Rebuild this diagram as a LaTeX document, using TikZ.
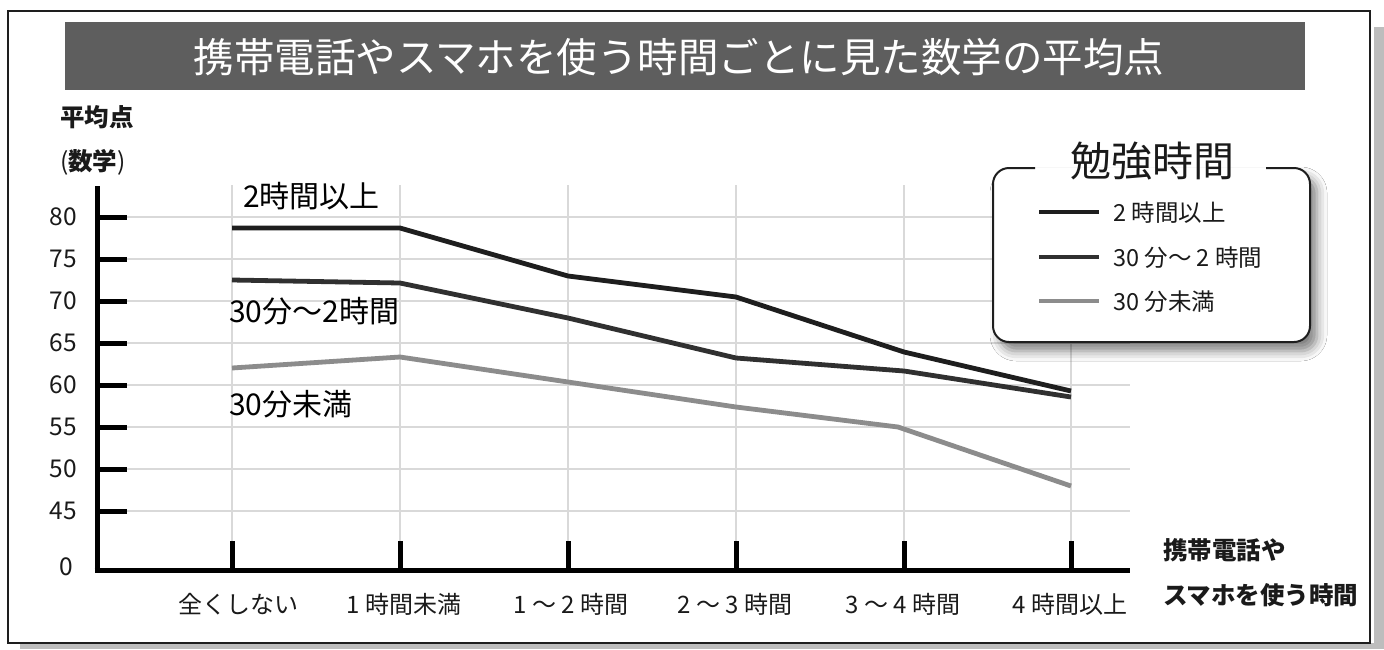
\documentclass[tikz,border=0pt]{standalone}
\usepackage{fontspec}
\setmainfont{Noto Sans CJK JP}
\usetikzlibrary{shadows.blur}
\definecolor{framec}{HTML}{1E1E1E}
\definecolor{shadowc}{HTML}{BDBDBD}
\definecolor{titlebg}{HTML}{5E5E5E}
\definecolor{gridc}{HTML}{D9D9D9}
\definecolor{serA}{HTML}{1E1E1E}
\definecolor{serB}{HTML}{303030}
\definecolor{serC}{HTML}{8C8C8C}
\definecolor{txtc}{HTML}{1A1A1A}
\tikzset{
  gridline/.style={draw=gridc, line width=2pt},
  axisline/.style={draw=black, line width=5pt},
  series/.style={line width=4.8pt, line join=round, line cap=butt},
  vallabel/.style={anchor=east, inner sep=0pt, text=txtc, font=\fontsize{24.5}{28}\selectfont},
  catlabel/.style={anchor=center, inner sep=0pt, text=txtc, font=\fontsize{24}{28}\selectfont},
  serlabel/.style={anchor=west, inner sep=0pt, text=black, font=\fontsize{30}{34}\selectfont},
  boldlabel/.style={anchor=west, inner sep=0pt, text=txtc, font=\fontsize{24.5}{28}\selectfont\bfseries},
  legtext/.style={anchor=west, inner sep=0pt, text=txtc, font=\fontsize{23.5}{27}\selectfont},
}
\begin{document}
\begin{tikzpicture}[x=1pt,y=-1pt]
\useasboundingbox (0,0) rectangle (1384,649);
% outer frame with shadow
\fill[shadowc] (20,27) rectangle (1384,649);
\fill[white] (1370,11) rectangle (1374,643);
\draw[framec, line width=2pt, fill=white] (8,11) rectangle (1370,643);
% title bar
\fill[titlebg] (65,22) rectangle (1305,90);
\node[inner sep=0pt, text=white, font=\fontsize{40.5}{46}\selectfont] (title) at (679,57) {携帯電話やスマホを使う時間ごとに見た数学の平均点};
% axis titles
\node[boldlabel] (ytitleA) at (60,117) {平均点};
\node[boldlabel] (ytitleB) at (60,162) {{\mdseries(}数学{\mdseries)}};
\node[boldlabel] (xtitleA) at (1163,550) {携帯電話や};
\node[boldlabel] (xtitleB) at (1163,595) {スマホを使う時間};
% grid
\foreach \y in {217,259,301,343,385,427,469,511}
  \draw[gridline] (127,\y) -- (1130,\y);
\foreach \x in {232,400,568,736,904,1071}
  \draw[gridline] (\x,185) -- (\x,541);
% axes
\coordinate (ytop) at (97,186);
\coordinate (origin) at (97,570);
\coordinate (xend) at (1130,570);
\draw[axisline] (ytop) -- (97,572.5);
\draw[axisline] (94.5,570) -- (xend);
\foreach \y/\v in {217/80,259/75,301/70,343/65,385/60,427/55,469/50,511/45}{
  \draw[axisline] (97,\y) -- (127,\y);
  \node[vallabel] (yl\v) at (77,\y) {\v};
}
\node[vallabel] (yl0) at (73,567) {0};
\foreach \x in {232,400,568,736,904,1071}
  \draw[axisline] (\x,570) -- (\x,541);
% category labels
\node[catlabel] (c1) at (238,604) {全くしない};
\node[catlabel] (c2) at (404,604) {1 時間未満};
\node[catlabel] (c3) at (571,604) {1 ～ 2 時間};
\node[catlabel] (c4) at (735,604) {2 ～ 3 時間};
\node[catlabel] (c5) at (903,604) {3 ～ 4 時間};
\node[catlabel] (c6) at (1070,604) {4 時間以上};
% series data
\coordinate (a1) at (232,228); \coordinate (a2) at (400,228); \coordinate (a3) at (568,276);
\coordinate (a4) at (736,297); \coordinate (a5) at (904,352); \coordinate (a6) at (1071,391);
\coordinate (b1) at (232,280); \coordinate (b2) at (400,283); \coordinate (b3) at (568,318);
\coordinate (b4) at (736,358); \coordinate (b5) at (904,371); \coordinate (b6) at (1071,397);
\coordinate (s1) at (232,368); \coordinate (s2) at (400,357); \coordinate (s3) at (568,382);
\coordinate (s4) at (736,407); \coordinate (s5) at (898,427); \coordinate (s6) at (1071,486);
\draw[series, serC] (s1) -- (s2) -- (s3) -- (s4) -- (s5) -- (s6);
\draw[series, serB] (b1) -- (b2) -- (b3) -- (b4) -- (b5) -- (b6);
\draw[series, serA] (a1) -- (a2) -- (a3) -- (a4) -- (a5) -- (a6);
% series labels
\node[serlabel] (la) at (243,196) {2時間以上};
\node[serlabel] (lb) at (229,311) {30分～2時間};
\node[serlabel] (lc) at (229,404) {30分未満};
% legend
\fill[white, rounded corners=16pt, blur shadow={shadow xshift=7pt, shadow yshift=-9pt, shadow blur radius=10pt, shadow opacity=50}] (993,168) rectangle (1310,342);
\coordinate (lgA) at (1035,168);
\coordinate (lgB) at (1266,168);
\draw[framec, line width=2pt, rounded corners=16pt] (lgA) -- (993,168) -- (993,342) -- (1310,342) -- (1310,168) -- (lgB);
\node[inner sep=0pt, text=txtc, font=\fontsize{41}{46}\selectfont] (legtitle) at (1152,161) {勉強時間};
\coordinate (k1s) at (1039,212); \coordinate (k1e) at (1099,212);
\coordinate (k2s) at (1039,257); \coordinate (k2e) at (1099,257);
\coordinate (k3s) at (1039,301); \coordinate (k3e) at (1099,301);
\draw[series, serA] (k1s) -- (k1e);
\draw[series, serB] (k2s) -- (k2e);
\draw[series, serC] (k3s) -- (k3e);
\node[legtext] (kt1) at (1113,213) {2 時間以上};
\node[legtext] (kt2) at (1113,258) {30 分～ 2 時間};
\node[legtext] (kt3) at (1113,302) {30 分未満};
\end{tikzpicture}
\end{document}
